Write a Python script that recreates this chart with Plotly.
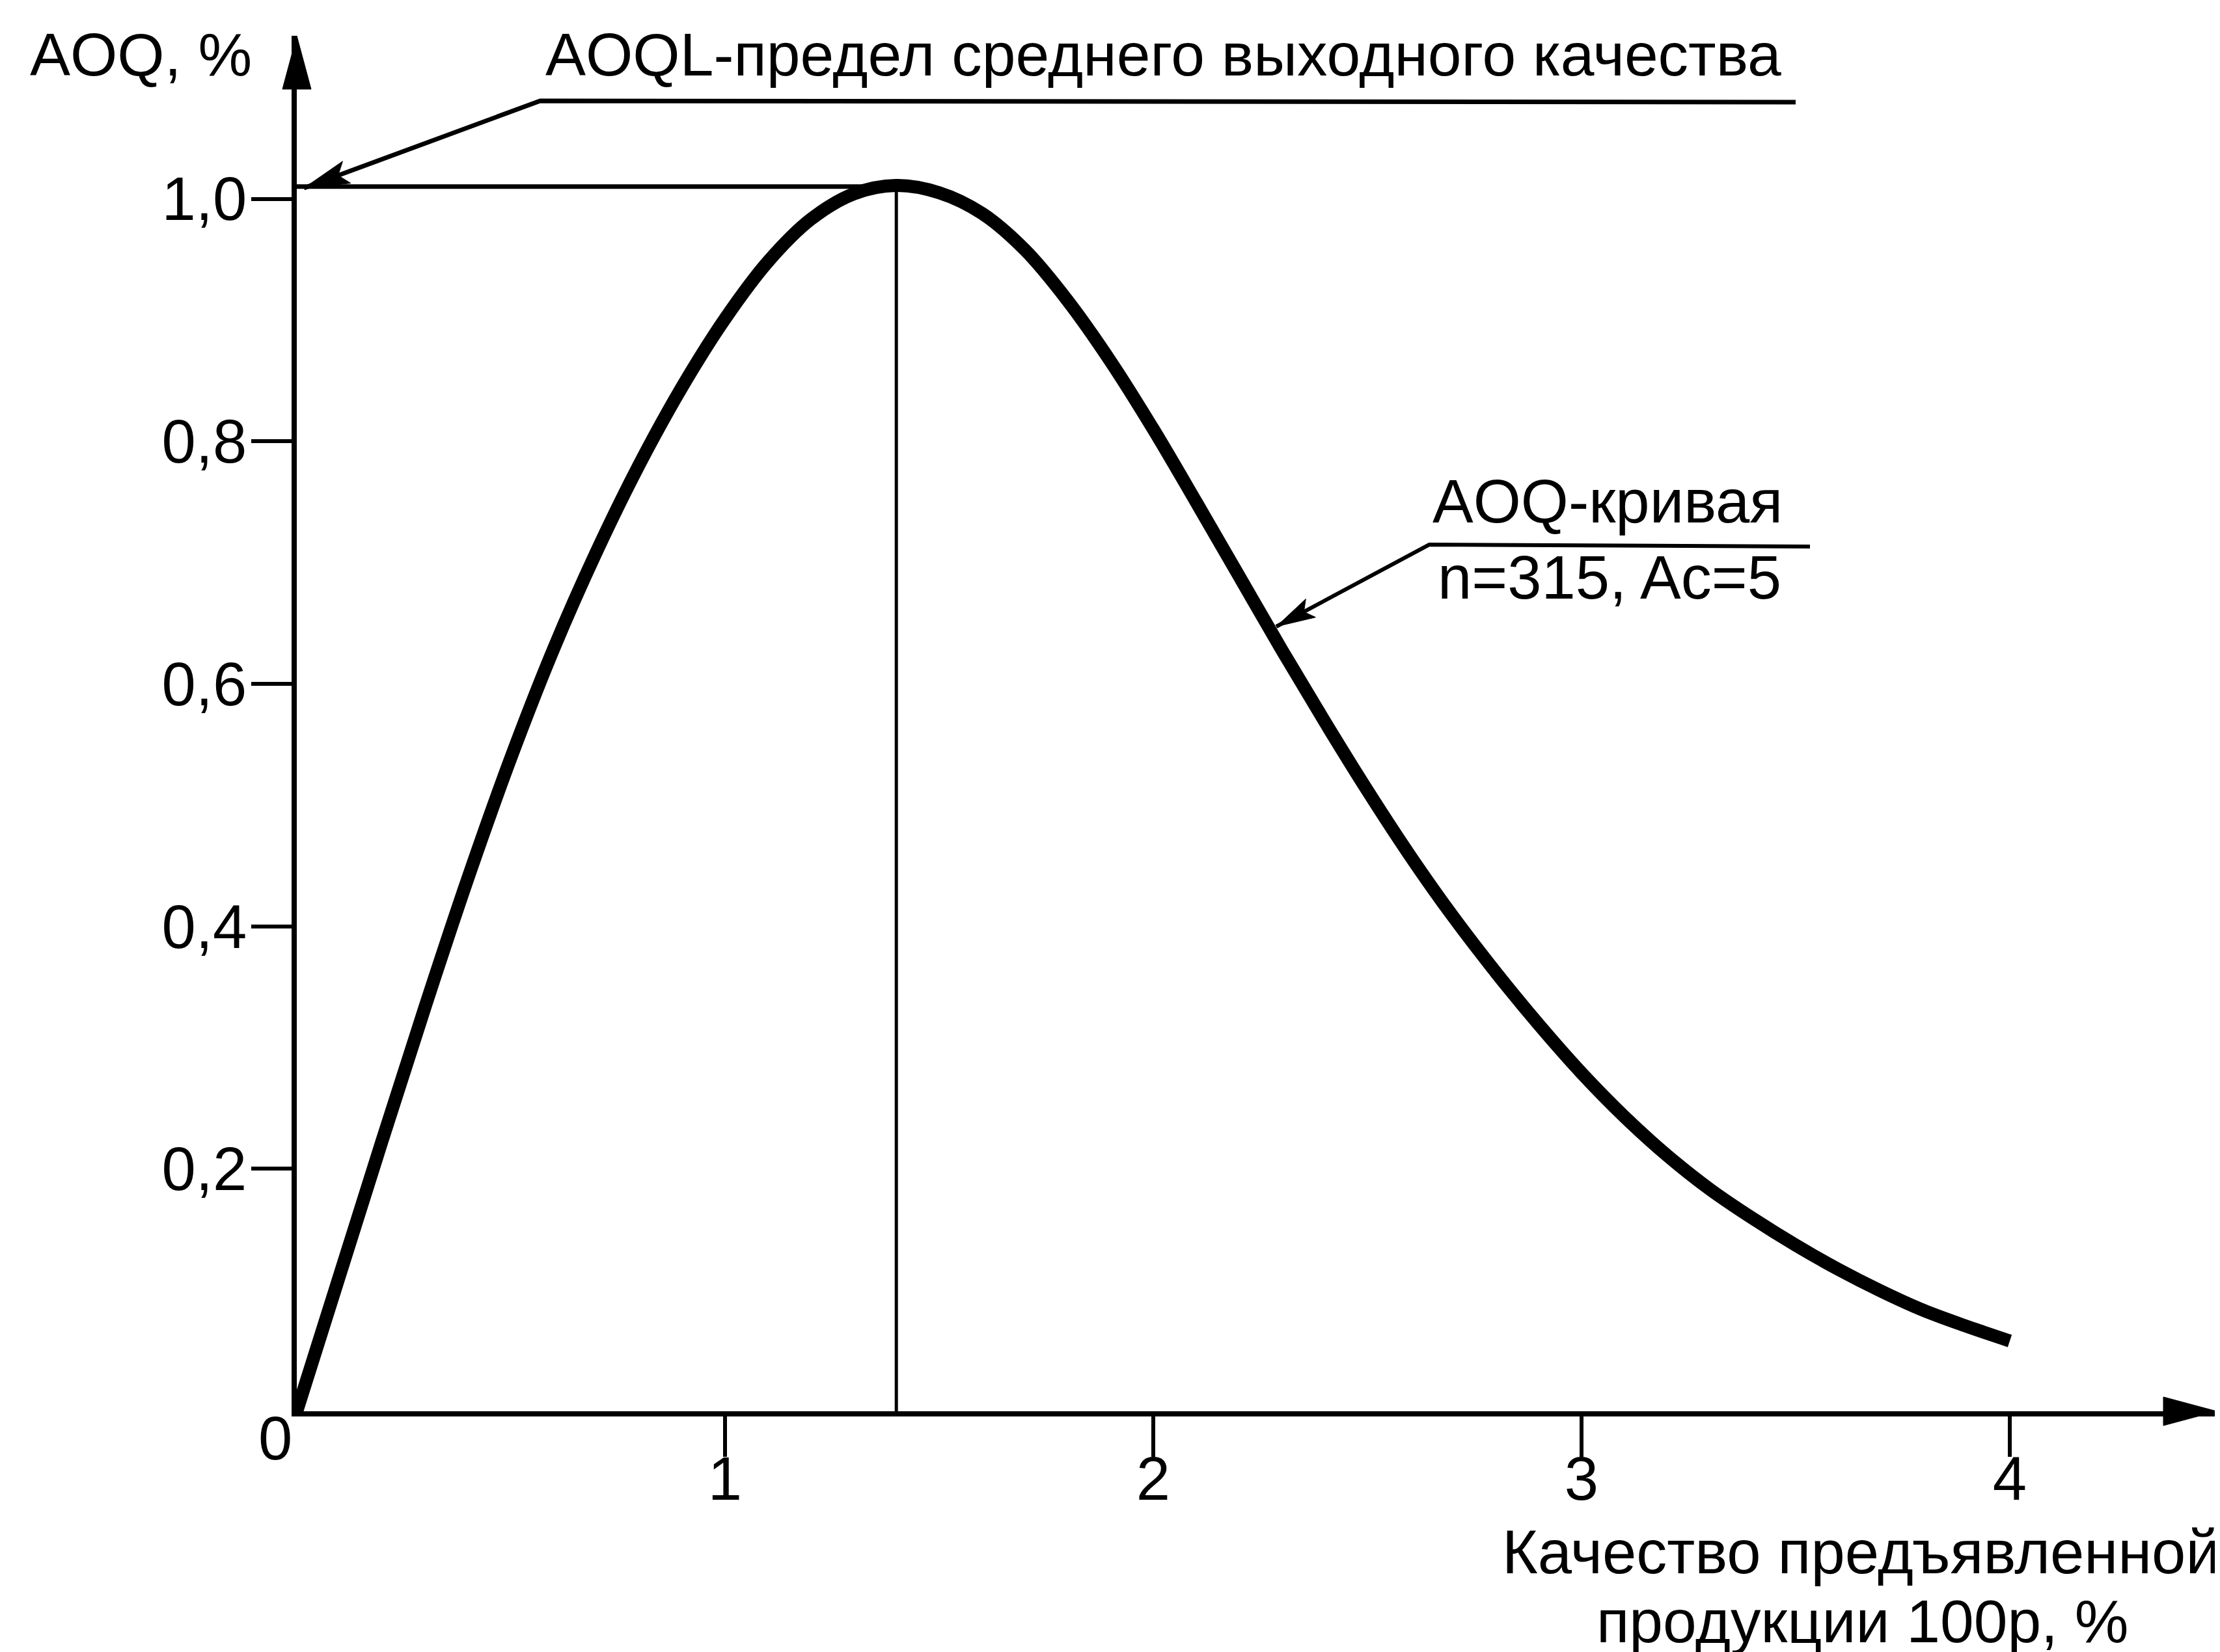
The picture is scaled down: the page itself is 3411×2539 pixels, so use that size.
import numpy as np
import plotly.graph_objects as go

# ---------------- data ----------------
p_percent = [0.0, 0.1, 0.2, 0.3, 0.4, 0.5, 0.6, 0.7, 0.8, 0.9,
             1.0, 1.1, 1.2, 1.3, 1.4, 1.5, 1.6, 1.7, 1.8, 1.9,
             2.0, 2.1, 2.2, 2.3, 2.4, 2.5, 2.6, 2.7, 2.8, 2.9,
             3.0, 3.1, 3.2, 3.3, 3.4, 3.5, 3.6, 3.7, 3.8, 3.9, 4.0]
aoq_percent = [0.000, 0.112, 0.224, 0.334, 0.440, 0.539, 0.629, 0.709, 0.781, 0.845,
               0.901, 0.948, 0.983, 1.004, 1.011, 1.005, 0.988, 0.958, 0.916, 0.866,
               0.810, 0.750, 0.689, 0.628, 0.569, 0.512, 0.458, 0.408, 0.362, 0.319,
               0.279, 0.243, 0.211, 0.183, 0.159, 0.137, 0.117, 0.099, 0.083, 0.070, 0.058]

AOQL_value = 1.01
AOQL_p = 1.40

x_tick_vals = [1, 2, 3, 4]
x_tick_text = ["1", "2", "3", "4"]
y_tick_vals = [0.2, 0.4, 0.6, 0.8, 1.0]
y_tick_text = ["0,2", "0,4", "0,6", "0,8", "1,0"]

label_y_axis = "AOQ, %"
label_aoql = "AOQL-предел среднего выходного качества"
label_curve_1 = "AOQ-кривая"
label_curve_2 = "n=315, Ac=5"
label_x_1 = "Качество предъявленной"
label_x_2 = "продукции 100р, %"

# ---------------- layout geometry ----------------
W, H = 3411, 2539
L, R, T, B = 448, 13, 47, 378
PW, PH = W - L - R, H - T - B
PX_PER_X = 658.0
PX_PER_Y = 1863.5
X_END = PW / PX_PER_X
Y_END = PH / PX_PER_Y
FONT = "Liberation Sans, Arial, sans-serif"


def px(xp):
    return (xp - L) / PW


def py(yp):
    return (H - B - yp) / PH


def head_path(dx, dy, length, half_w, notch=0.8):
    d = np.array([dx, dy], float)
    d /= np.linalg.norm(d)
    n = np.array([-d[1], d[0]])
    b = d * length
    p1 = b + n * half_w
    p2 = b - n * half_w
    pn = d * length * notch
    return "M0,0 L{:.1f},{:.1f} L{:.1f},{:.1f} L{:.1f},{:.1f} Z".format(
        p1[0], p1[1], pn[0], pn[1], p2[0], p2[1])


fig = go.Figure()

fig.add_trace(go.Scatter(
    x=p_percent, y=aoq_percent, mode="lines",
    line=dict(color="black", width=20, shape="spline", smoothing=1.0),
    hoverinfo="skip", cliponaxis=False))

shapes = []
# AOQL horizontal and vertical reference lines
shapes.append(dict(type="line", xref="x", yref="y", x0=0, x1=AOQL_p,
                   y0=AOQL_value, y1=AOQL_value, line=dict(color="black", width=7)))
shapes.append(dict(type="line", xref="x", yref="y", x0=AOQL_p, x1=AOQL_p,
                   y0=0, y1=AOQL_value, line=dict(color="black", width=5)))

# axis arrowheads
shapes.append(dict(type="path", xref="paper", yref="paper", xsizemode="pixel",
                   ysizemode="pixel", xanchor=1.0, yanchor=0.0,
                   path="M0,0 L-82,22 L-82,-22 Z", fillcolor="black",
                   line=dict(color="black", width=1)))
shapes.append(dict(type="path", xref="paper", yref="paper", xsizemode="pixel",
                   ysizemode="pixel", xanchor=0.0, yanchor=1.0,
                   path="M0,0 L-22,-82 L22,-82 Z", fillcolor="black",
                   line=dict(color="black", width=1)))

# AOQL leader
tip1 = (459, 281)
shapes.append(dict(type="path", xref="paper", yref="paper", xsizemode="pixel",
                   ysizemode="pixel", xanchor=px(tip1[0]), yanchor=py(tip1[1]),
                   path="M0,0 L363,134 L2292,132", fillcolor="rgba(0,0,0,0)",
                   line=dict(color="black", width=7)))
shapes.append(dict(type="path", xref="paper", yref="paper", xsizemode="pixel",
                   ysizemode="pixel", xanchor=px(tip1[0]), yanchor=py(tip1[1]),
                   path=head_path(363, 134, 70, 18), fillcolor="black",
                   line=dict(color="black", width=1)))

# AOQ-curve leader
tip2 = (1953, 955)
shapes.append(dict(type="path", xref="paper", yref="paper", xsizemode="pixel",
                   ysizemode="pixel", xanchor=px(tip2[0]), yanchor=py(tip2[1]),
                   path="M0,0 L235,126 L820,123", fillcolor="rgba(0,0,0,0)",
                   line=dict(color="black", width=6)))
shapes.append(dict(type="path", xref="paper", yref="paper", xsizemode="pixel",
                   ysizemode="pixel", xanchor=px(tip2[0]), yanchor=py(tip2[1]),
                   path=head_path(235, 126, 60, 16), fillcolor="black",
                   line=dict(color="black", width=1)))

ann = []


def text(t, xp, yp, xa, size=94):
    ann.append(dict(text=t, xref="paper", yref="paper", x=px(xp), y=py(yp),
                    xanchor=xa, yanchor="middle", showarrow=False,
                    font=dict(family=FONT, size=size, color="black")))


text(label_y_axis, 36, 76, "left", 93)
text(label_aoql, 828, 76, "left", 93)
text(label_curve_1, 2462, 762, "center", 94)
text(label_curve_2, 2465, 879, "center", 94)
text(label_x_1, 2851, 2377, "center", 94)
text(label_x_2, 2853, 2484, "center", 93)
text("0", 415, 2202, "center", 94)

fig.update_layout(
    width=W, height=H,
    margin=dict(l=L, r=R, t=T, b=B, pad=0),
    paper_bgcolor="white", plot_bgcolor="white",
    showlegend=False,
    font=dict(family=FONT, color="black", size=94),
    shapes=shapes, annotations=ann,
    xaxis=dict(range=[0, X_END], showgrid=False, zeroline=False,
               showline=True, linecolor="black", linewidth=8,
               ticks="outside", ticklen=62, tickwidth=6, tickcolor="black",
               tickvals=x_tick_vals, ticktext=x_tick_text,
               ticklabelstandoff=-47,
               tickfont=dict(family=FONT, size=94, color="black")),
    yaxis=dict(range=[0, Y_END], showgrid=False, zeroline=False,
               showline=True, linecolor="black", linewidth=8,
               ticks="outside", ticklen=62, tickwidth=6, tickcolor="black",
               tickvals=y_tick_vals, ticktext=y_tick_text,
               ticklabelstandoff=-12,
               tickfont=dict(family=FONT, size=94, color="black")),
)

fig.write_html("out.html")
